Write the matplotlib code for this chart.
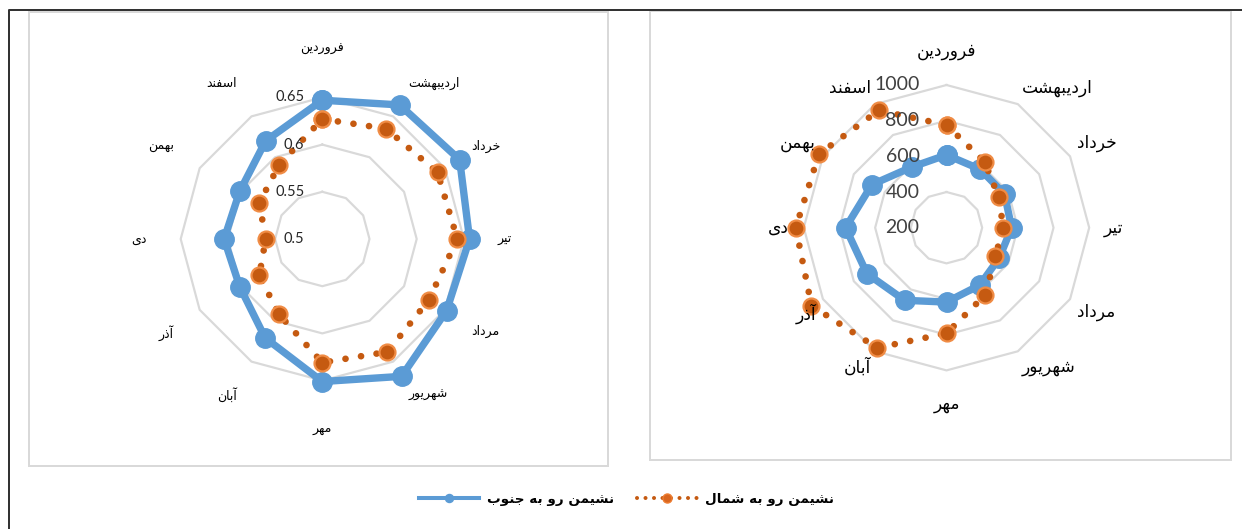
import numpy as np
import matplotlib
matplotlib.use("Agg")
import matplotlib.pyplot as plt
from matplotlib.patches import Rectangle
from matplotlib.lines import Line2D

# ---------------------------------------------------------------- data
months = ['فروردین', 'اردیبهشت', 'خرداد', 'تیر', 'مرداد', 'شهریور',
          'مهر', 'آبان', 'آذر', 'دی', 'بهمن', 'اسفند']
series_names = ['نشیمن رو به جنوب', 'نشیمن رو به شمال']

ratio_south = [0.647, 0.664, 0.668, 0.656, 0.652, 0.668,
               0.651, 0.621, 0.601, 0.604, 0.601, 0.620]
ratio_north = [0.627, 0.635, 0.641, 0.643, 0.630, 0.638,
               0.631, 0.592, 0.577, 0.560, 0.577, 0.591]
ratio_ticks = [0.5, 0.55, 0.6, 0.65]
ratio_tick_labels = ['0.5', '0.55', '0.6', '0.65']

load_south = [608, 578, 576, 565, 541, 572, 617, 670, 715, 766, 683, 592]
load_north = [776, 627, 539, 518, 517, 635, 792, 978, 1074, 1045, 1026, 959]
load_ticks = [200, 400, 600, 800, 1000]
load_tick_labels = ['200', '400', '600', '800', '1000']

# ---------------------------------------------------------------- style
BLUE = '#5B9BD5'
ORANGE_DARK = '#C55A11'
ORANGE_LIGHT = '#F08C45'
GRID = '#D9D9D9'
W, H, DPI = 1242, 529, 100
PX = 72.0 / DPI          # points per pixel

# ------------------------------------------------- Persian text shaping
_FORMS = {
    'ا': ('\uFE8D', '\uFE8E', None, None),
    'آ': ('\uFE81', '\uFE82', None, None),
    'ب': ('\uFE8F', '\uFE90', '\uFE91', '\uFE92'),
    'ت': ('\uFE95', '\uFE96', '\uFE97', '\uFE98'),
    'ج': ('\uFE9D', '\uFE9E', '\uFE9F', '\uFEA0'),
    'خ': ('\uFEA5', '\uFEA6', '\uFEA7', '\uFEA8'),
    'د': ('\uFEA9', '\uFEAA', None, None),
    'ذ': ('\uFEAB', '\uFEAC', None, None),
    'ر': ('\uFEAD', '\uFEAE', None, None),
    'س': ('\uFEB1', '\uFEB2', '\uFEB3', '\uFEB4'),
    'ش': ('\uFEB5', '\uFEB6', '\uFEB7', '\uFEB8'),
    'ف': ('\uFED1', '\uFED2', '\uFED3', '\uFED4'),
    'ل': ('\uFEDD', '\uFEDE', '\uFEDF', '\uFEE0'),
    'م': ('\uFEE1', '\uFEE2', '\uFEE3', '\uFEE4'),
    'ن': ('\uFEE5', '\uFEE6', '\uFEE7', '\uFEE8'),
    'ه': ('\uFEE9', '\uFEEA', '\uFEEB', '\uFEEC'),
    'و': ('\uFEED', '\uFEEE', None, None),
    '\u06CC': ('\uFEEF', '\uFEF0', '\uFEF3', '\uFEF4'),
    '\u064A': ('\uFEEF', '\uFEF0', '\uFEF3', '\uFEF4'),
}


def fa(text):
    """Join Persian letters into their contextual forms, in visual order."""
    out = []
    for i, ch in enumerate(text):
        forms = _FORMS.get(ch)
        if forms is None:
            out.append(ch)
            continue
        prev = text[i - 1] if i > 0 else None
        nxt = text[i + 1] if i + 1 < len(text) else None
        joins_prev = prev in _FORMS and _FORMS[prev][2] is not None
        joins_next = forms[2] is not None and nxt in _FORMS
        if joins_prev and joins_next:
            out.append(forms[3])
        elif joins_prev:
            out.append(forms[1])
        elif joins_next:
            out.append(forms[2])
        else:
            out.append(forms[0])
    return ''.join(reversed(out))


# ---------------------------------------------------------------- figure
fig = plt.figure(figsize=(W / DPI, H / DPI), dpi=DPI)
fig.patch.set_facecolor('white')


def px_rect(x0, y0, x1, y1):
    return [x0 / W, 1 - y1 / H, (x1 - x0) / W, (y1 - y0) / H]


# chart frames
for (x0, y0, x1, y1) in [(28.5, 11.5, 608, 465.5), (650, 11, 1230.5, 460)]:
    fig.add_artist(Rectangle((x0 / W, 1 - y1 / H), (x1 - x0) / W, (y1 - y0) / H,
                             transform=fig.transFigure, fill=False,
                             ec=GRID, lw=2.0 * PX, zorder=0))
# outer border (left and top edges)
fig.add_artist(Line2D([9 / W, 9 / W, 1.0], [0.0, 1 - 9.5 / H, 1 - 9.5 / H],
                      transform=fig.transFigure, color='#333333', lw=2 * PX))

theta = np.linspace(0, 2 * np.pi, len(months), endpoint=False)
theta_c = np.append(theta, theta[0])


def closed(v):
    v = list(v)
    return v + v[:1]


def radar(center_px, radius_px, south, north, ticks, tick_labels,
          tick_dx_px, tick_size, tick_color, lab_size, lab_d):
    cx, cy = center_px
    ax = fig.add_axes(px_rect(cx - radius_px, cy - radius_px,
                              cx + radius_px, cy + radius_px),
                      projection='polar')
    ax.set_theta_zero_location('N')
    ax.set_theta_direction(-1)
    ax.set_ylim(ticks[0], ticks[-1])
    ax.grid(False)
    ax.set_xticks([])
    ax.set_yticks([])
    ax.spines['polar'].set_visible(False)
    ax.patch.set_alpha(0)

    # polygonal rings
    for t in ticks[1:]:
        ax.plot(theta_c, [t] * len(theta_c), color=GRID, lw=2.2 * PX,
                zorder=1, clip_on=False)

    # tick labels on the vertical axis
    for t, lbl in zip(ticks, tick_labels):
        ax.annotate(lbl, xy=(0, t), xytext=(-tick_dx_px * PX, 0),
                    textcoords='offset points', ha='right', va='center',
                    fontsize=tick_size, color=tick_color, family='Lato',
                    zorder=6, annotation_clip=False)

    ax.plot(theta_c, closed(south), color=BLUE, lw=5.3, marker='o', ms=14,
            mfc=BLUE, mec=BLUE, zorder=3, clip_on=False,
            solid_joinstyle='round')
    ax.plot(theta_c, closed(north), color=ORANGE_DARK, lw=4.8,
            linestyle=(0, (0.01, 2.35)), dash_capstyle='round',
            marker='o', ms=11.5, mfc=ORANGE_DARK, mec=ORANGE_LIGHT, mew=1.6,
            zorder=4, clip_on=False)

    d_diag, d_h, d_v = lab_d
    for th, name in zip(theta, months):
        s, c = np.sin(th), np.cos(th)
        if abs(s) < 0.1:
            d = d_v
        elif abs(c) < 0.1:
            d = d_h
        else:
            d = d_diag
        ha = 'center' if abs(s) < 0.1 else ('left' if s > 0 else 'right')
        va = 'center' if abs(c) < 0.1 else ('bottom' if c > 0 else 'top')
        ax.annotate(fa(name), xy=(th, ticks[-1]),
                    xytext=(s * d * PX, c * d * PX), textcoords='offset points',
                    ha=ha, va=va, fontsize=lab_size, color='black',
                    family='DejaVu Sans', zorder=7, annotation_clip=False)
    return ax


radar((322.3, 239.0), 141.6, ratio_south, ratio_north, ratio_ticks,
      ratio_tick_labels, 18, 10.5, '#262626', 9, (30, 34, 42))
radar((946.5, 227.7), 142.7, load_south, load_north, load_ticks,
      load_tick_labels, 27, 14, '#404040', 12.3, (8, 15, 25))

# legend
handles = [
    Line2D([], [], color=BLUE, lw=2.9, marker='o', ms=5.8, mfc=BLUE, mec=BLUE),
    Line2D([], [], color=ORANGE_DARK, lw=2.9, linestyle=(0, (0.01, 2.1)),
           dash_capstyle='round', marker='o', ms=6.5, mfc='#D9661F',
           mec='#ED7D31'),
]
fig.legend(handles, [fa(n) for n in series_names], loc='center',
           bbox_to_anchor=(626.5 / W, 1 - 499 / H), ncol=2, frameon=False,
           handlelength=4.5, handletextpad=0.6, columnspacing=1.65,
           prop={'family': 'DejaVu Sans', 'weight': 'bold', 'size': 9.7},
           numpoints=1)

fig.savefig('out.png', dpi=DPI, facecolor='white')
